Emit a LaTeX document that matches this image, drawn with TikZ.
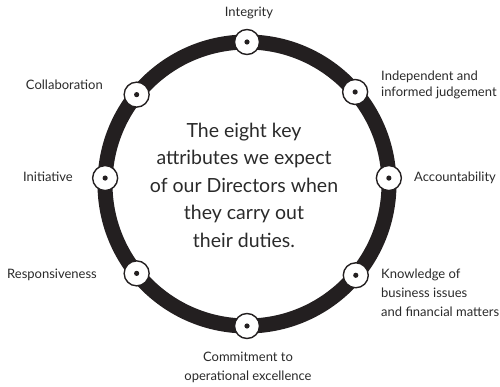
\documentclass[tikz,border=0pt]{standalone}
\usepackage{fontspec}
\setmainfont{Lato}
\usetikzlibrary{calc}
\definecolor{ink}{HTML}{231F20}
\definecolor{txt}{HTML}{2A2A2A}
\begin{document}
\begin{tikzpicture}[x=1pt,y=-1pt,
  marker/.style={circle, draw=ink, fill=white, line width=1.4pt, minimum size=25pt, inner sep=0pt},
  lab/.style={font=\fontsize{13}{16.5}\selectfont, text=txt, inner sep=0pt},
  labk/.style={font=\fontsize{13}{19}\selectfont, text=txt, inner sep=0pt},
  mid/.style={font=\fontsize{19.5}{27.5}\selectfont, text=txt, inner sep=0pt, align=center}]
\useasboundingbox (0,0) rectangle (500,387);
\coordinate (c) at (247,184);
\draw[ink, line width=15pt] (c) circle[radius=142pt];
\foreach \a/\n in {90/m1, 40.4/m2, 2.4/m3, 320/m4, 270/m5, 219/m6, 177.6/m7, 141/m8}{
  \node[marker] (\n) at ($(c)+(\a:142pt)$) {};
  \fill[ink] (\n.center) circle[radius=2.6pt];
}
\node[lab] (l1) at (249,13) {Integrity};
\node[lab, anchor=west, align=left] (l2) at (381,85) {Independent and\\informed judgement};
\node[lab, anchor=west] (l3) at (414,178) {Accountability};
\node[labk, anchor=west, align=left] (l4) at (381,293) {Knowledge of\\business issues\\and financial matters};
\node[labk, align=center] (l5) at (248,367.5) {Commitment to\\operational excellence};
\node[lab, anchor=east] (l6) at (97,275) {Responsiveness};
\node[lab, anchor=east] (l7) at (73,177) {Initiative};
\node[lab, anchor=east] (l8) at (103,85) {Collaboration};
\node[mid] (t) at (244,185) {The eight key\\attributes we expect\\of our Directors when\\they carry out\\their duties.};
\end{tikzpicture}
\end{document}
